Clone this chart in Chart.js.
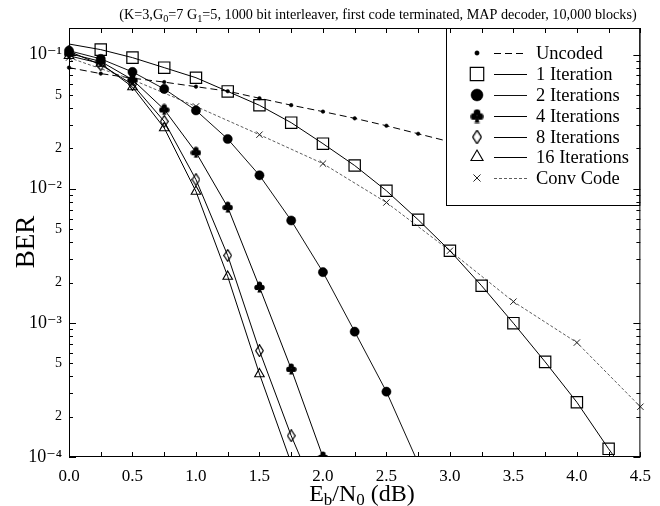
<!DOCTYPE html>
<html>
<head>
<meta charset="utf-8">
<script src="https://cdn.jsdelivr.net/npm/chart.js@4"></script>
<style>
  html, body { margin: 0; padding: 0; background: #fff; }
  canvas { display: block; }
</style>
</head>
<body>
<canvas id="c" width="660" height="506"></canvas>
<script>
// ---------------- data ----------------
const ebUncoded  = [0, 0.25, 0.5, 0.75, 1.0, 1.25, 1.5, 1.75, 2.0, 2.25, 2.5, 2.75, 3.0];
const berUncoded = [0.080, 0.0722, 0.0668, 0.0624, 0.0577, 0.0534, 0.0473, 0.0420, 0.0376, 0.0335, 0.0295, 0.0257, 0.0224];

const ebIter1  = [0, 0.25, 0.5, 0.75, 1.0, 1.25, 1.5, 1.75, 2.0, 2.25, 2.5, 2.75, 3.0, 3.25, 3.5, 3.75, 4.0, 4.25, 4.5];
const berIter1 = [0.12, 0.109, 0.095, 0.080, 0.0673, 0.0532, 0.0419, 0.0311, 0.0217, 0.0149, 0.00966, 0.00587, 0.00345, 0.00189, 0.000995, 0.000512, 0.000256, 0.000115, 0.000054];

const ebIter2  = [0, 0.25, 0.5, 0.75, 1.0, 1.25, 1.5, 1.75, 2.0, 2.25, 2.5, 2.75];
const berIter2 = [0.107, 0.093, 0.0743, 0.0555, 0.0384, 0.0235, 0.0126, 0.0058, 0.00239, 0.00086, 0.000307, 0.00009];

const ebIter4  = [0, 0.25, 0.5, 0.75, 1.0, 1.25, 1.5, 1.75, 2.0];
const berIter4 = [0.102, 0.089, 0.065, 0.039, 0.0187, 0.0073, 0.00185, 0.000454, 0.0001];

const ebIter8  = [0, 0.25, 0.5, 0.75, 1.0, 1.25, 1.5, 1.75, 2.0];
const berIter8 = [0.106, 0.084, 0.060, 0.0318, 0.0117, 0.00318, 0.00062, 0.000144, 0.00004];

const ebIter16  = [0, 0.25, 0.5, 0.75, 1.0, 1.25, 1.5, 1.75];
const berIter16 = [0.098, 0.086, 0.0574, 0.0284, 0.00955, 0.00222, 0.000416, 0.00009];

const ebConv  = [0, 0.5, 1.0, 1.5, 2.0, 2.5, 3.0, 3.5, 4.0, 4.5];
const berConv = [0.095, 0.065, 0.0411, 0.0253, 0.0154, 0.0079, 0.00345, 0.00144, 0.000713, 0.000237];

const seriesNames = ['Uncoded', '1 Iteration', '2 Iterations', '4 Iterations', '8 Iterations', '16 Iterations', 'Conv Code'];
const xTickLabels = ['0.0', '0.5', '1.0', '1.5', '2.0', '2.5', '3.0', '3.5', '4.0', '4.5'];
const yDecadeLabels = ['10\u207B\u2074', '10\u207B\u00B3', '10\u207B\u00B2', '10\u207B\u00B9'];

// ---------------- styling helpers ----------------
const SERIF = '"Liberation Serif", "Times New Roman", "DejaVu Serif", serif';

function mk(w, h, draw) {
  const c = document.createElement('canvas');
  c.width = w; c.height = h;
  const g = c.getContext('2d');
  g.strokeStyle = '#000'; g.fillStyle = '#000';
  draw(g);
  return c;
}
const mClub = mk(11, 12, g => {
  g.beginPath(); g.arc(5.5, 3.0, 2.6, 0, Math.PI * 2); g.fill();
  g.beginPath(); g.arc(2.9, 6.4, 2.6, 0, Math.PI * 2); g.fill();
  g.beginPath(); g.arc(8.1, 6.4, 2.6, 0, Math.PI * 2); g.fill();
  g.beginPath(); g.moveTo(5.5, 5); g.lineTo(7.6, 11.5); g.lineTo(3.4, 11.5); g.closePath(); g.fill();
});
const mDiamond = mk(9, 13, g => {
  g.lineWidth = 1.2; g.beginPath();
  g.moveTo(4.5, 0.7); g.lineTo(8.3, 6.5); g.lineTo(4.5, 12.3); g.lineTo(0.7, 6.5); g.closePath(); g.stroke();
});

function pts(xs, ys) { return xs.map((x, i) => ({ x: x, y: ys[i] })); }
const CLIP = { left: 8, right: 8, top: 0, bottom: 0 };

function ds(label, xs, ys, marker, o) {
  return Object.assign({
    label: label,
    data: pts(xs, ys),
    borderColor: '#000',
    borderWidth: 1,
    borderDash: [],
    pointStyle: marker,
    pointRadius: 5,
    pointBorderColor: '#000',
    pointBackgroundColor: 'rgba(0,0,0,0)',
    pointBorderWidth: 1.2,
    fill: false,
    tension: 0,
    clip: CLIP
  }, o || {});
}

const datasets = [
  ds(seriesNames[0], ebUncoded, berUncoded, 'circle', { borderDash: [7, 4], pointRadius: 1.8, pointBackgroundColor: '#000', pointBorderWidth: 0.5, legendR: 2.2 }),
  ds(seriesNames[1], ebIter1, berIter1, 'rect', { pointRadius: ebIter1.map((v, i) => i === 0 ? 0 : 8), legendR: 9.5 }),
  ds(seriesNames[2], ebIter2, berIter2, 'circle', { pointRadius: 4.6, pointBackgroundColor: '#000', pointBorderWidth: 0.5, borderColor: '#111', legendR: 6 }),
  ds(seriesNames[3], ebIter4, berIter4, mClub, { legendScale: 1.25 }),
  ds(seriesNames[4], ebIter8, berIter8, mDiamond, { legendScale: 1.15 }),
  ds(seriesNames[5], ebIter16, berIter16, 'triangle', { pointRadius: 5.5, pointBorderWidth: 1.1, legendR: 7 }),
  ds(seriesNames[6], ebConv, berConv, 'crossRot', { borderDash: [3, 2], borderWidth: 0.8, borderColor: '#333', pointRadius: 4.5, pointBorderWidth: 1, pointBorderColor: '#222', legendR: 5 })
];

// y tick values: 1..9 x 10^d for d=-4..-2 and 0.1
const yTickValues = [];
for (let d = -4; d <= -2; d++) for (let m = 1; m <= 9; m++) yTickValues.push(+(m * Math.pow(10, d)).toPrecision(3));
yTickValues.push(0.1);

function mant(v) { const e = Math.floor(Math.log10(v) + 1e-9); return Math.round(v / Math.pow(10, e)); }
function decIdx(v) { return Math.round(Math.log10(v)) + 4; }

// rich text helper (for sub/superscripts)
function drawRich(ctx, segs, x, y, align) {
  let total = 0;
  segs.forEach(s => { ctx.font = s.size + 'px ' + SERIF; s.w = ctx.measureText(s.t).width; total += s.w; });
  let cx = align === 'center' ? x - total / 2 : x;
  ctx.textBaseline = 'alphabetic'; ctx.textAlign = 'left';
  segs.forEach(s => { ctx.font = s.size + 'px ' + SERIF; ctx.fillText(s.t, cx, y + (s.dy || 0)); cx += s.w; });
}

const framePlugin = {
  id: 'frame',
  afterDatasetsDraw(chart) {
    const ctx = chart.ctx, a = chart.chartArea;
    // legend box
    const L = 446, T = a.top, R = a.right, B = 205;
    ctx.save();
    ctx.fillStyle = '#fff';
    ctx.fillRect(L, T, R - L, B - T);
    ctx.strokeStyle = '#000'; ctx.lineWidth = 1;
    ctx.strokeRect(L + 0.5, T + 0.5, R - L - 1, B - T);
    const rows = [53, 74, 95, 116, 137, 157, 178];
    chart.data.datasets.forEach((d, i) => {
      const y = rows[i];
      const st = d.pointStyle;
      if (typeof st === 'object') {
        const s = d.legendScale || 1;
        ctx.drawImage(st, 477 - st.width * s / 2, y - st.height * s / 2, st.width * s, st.height * s);
      } else {
        ctx.strokeStyle = d.pointBorderColor; ctx.fillStyle = d.pointBackgroundColor;
        ctx.lineWidth = d.pointBorderWidth;
        Chart.helpers.drawPoint(ctx, { pointStyle: st, radius: d.legendR, rotation: 0, borderWidth: d.pointBorderWidth }, 477, y);
      }
      ctx.beginPath();
      ctx.setLineDash(d.borderDash || []);
      ctx.strokeStyle = d.borderColor; ctx.lineWidth = d.borderWidth;
      ctx.moveTo(494, y + 0.5); ctx.lineTo(527, y + 0.5); ctx.stroke();
      ctx.setLineDash([]);
      ctx.fillStyle = '#000';
      ctx.font = '18.5px ' + SERIF;
      ctx.textBaseline = 'middle'; ctx.textAlign = 'left';
      ctx.fillText(d.label, 536, y + 1);
    });
    ctx.restore();
  },
  afterDraw(chart) {
    const ctx = chart.ctx, a = chart.chartArea;
    const xs = chart.scales.x, ys = chart.scales.y;
    ctx.save();
    ctx.strokeStyle = '#000'; ctx.lineWidth = 1;
    // frame
    ctx.strokeRect(a.left + 0.5, a.top + 0.5, a.right - a.left - 1, a.bottom - a.top - 1);
    // inward ticks
    ctx.beginPath();
    xs.ticks.forEach(t => {
      const px = Math.round(xs.getPixelForValue(t.value)) + 0.5;
      ctx.moveTo(px, a.bottom); ctx.lineTo(px, a.bottom - 5);
      ctx.moveTo(px, a.top); ctx.lineTo(px, a.top + 5);
    });
    ys.ticks.forEach(t => {
      const py = Math.round(ys.getPixelForValue(t.value)) + 0.5;
      const len = mant(t.value) === 1 ? 7 : 4;
      ctx.moveTo(a.left, py); ctx.lineTo(a.left + len, py);
      ctx.moveTo(a.right, py); ctx.lineTo(a.right - len, py);
    });
    ctx.stroke();
    // chart title
    ctx.fillStyle = '#000';
    drawRich(ctx, [
      { t: '(K=3,G', size: 14.2 }, { t: '0', size: 10.3, dy: 3 }, { t: '=7 G', size: 14.2 }, { t: '1', size: 10.3, dy: 3 },
      { t: '=5, 1000 bit interleaver, first code terminated, MAP decoder, 10,000 blocks)', size: 14.2 }
    ], 378, 19, 'center');
    // x-axis title
    drawRich(ctx, [
      { t: 'E', size: 24 }, { t: 'b', size: 17, dy: 4 }, { t: '/N', size: 24 }, { t: '0', size: 17, dy: 4 }, { t: ' (dB)', size: 24 }
    ], 362, 501, 'center');
    // y-axis title
    ctx.translate(27, 242);
    ctx.rotate(-Math.PI / 2);
    ctx.font = '27px ' + SERIF;
    ctx.textAlign = 'center'; ctx.textBaseline = 'middle';
    ctx.fillText('BER', 0, 0);
    ctx.restore();
  }
};

new Chart(document.getElementById('c').getContext('2d'), {
  type: 'line',
  data: { datasets: datasets },
  options: {
    responsive: false,
    animation: false,
    devicePixelRatio: 1,
    layout: { padding: { top: 28, right: 13, left: 0, bottom: 0 } },
    plugins: { legend: { display: false }, title: { display: false }, tooltip: { enabled: false } },
    events: [],
    scales: {
      x: {
        type: 'linear', min: 0, max: 4.5,
        grid: { display: false, drawTicks: false },
        border: { display: false },
        ticks: {
          stepSize: 0.25, autoSkip: false, maxRotation: 0, color: '#000', padding: 9,
          font: { family: SERIF, size: 17 },
          callback: v => {
            const k = Math.round(v * 2);
            return Math.abs(v * 2 - k) < 1e-6 ? xTickLabels[k] : '';
          }
        },
        afterFit: s => { s.height = 49; }
      },
      y: {
        type: 'logarithmic', min: 1e-4, max: 0.158,
        grid: { display: false, drawTicks: false },
        border: { display: false },
        afterBuildTicks: s => { s.ticks = yTickValues.map(v => ({ value: v })); },
        ticks: {
          autoSkip: false, color: '#000', padding: 7,
          font: c => ({ family: SERIF, size: (c.tick && mant(c.tick.value) === 1) ? 18 : 14 }),
          callback: v => {
            const m = mant(v);
            if (m === 1) return yDecadeLabels[decIdx(v)];
            if (m === 2 || m === 5) return String(m);
            return '';
          }
        },
        afterFit: s => { s.width = 69; }
      }
    }
  },
  plugins: [framePlugin]
});
</script>
</body>
</html>
